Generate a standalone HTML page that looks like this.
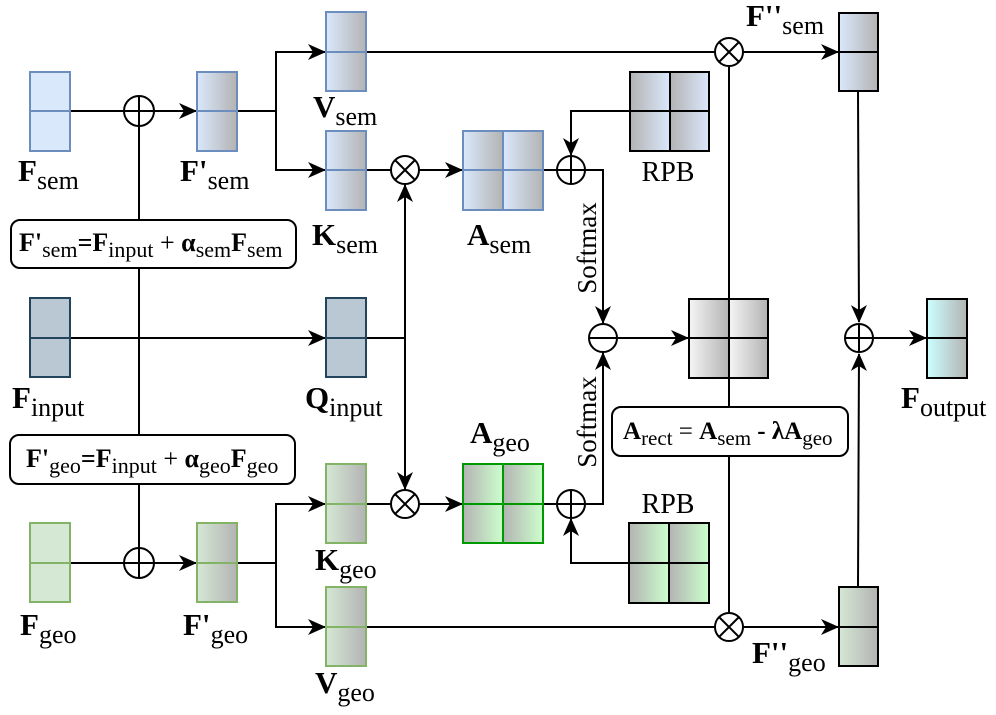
<!DOCTYPE html>
<html><head><meta charset="utf-8"><style>
html,body{margin:0;padding:0;background:#fff;}
svg{display:block;font-family:"Liberation Serif",serif;}
.b{font-weight:bold;}
</style></head><body>
<svg width="996" height="715" viewBox="0 0 996 715" xmlns="http://www.w3.org/2000/svg">
<defs>
<linearGradient id="gb" x1="0" x2="1"><stop offset="0" stop-color="#dae8fc"/><stop offset="1" stop-color="#b3b3b3"/></linearGradient>
<linearGradient id="bg" x1="0" x2="1"><stop offset="0" stop-color="#b3b3b3"/><stop offset="1" stop-color="#dae8fc"/></linearGradient>
<linearGradient id="gg" x1="0" x2="1"><stop offset="0" stop-color="#d5e8d4"/><stop offset="1" stop-color="#b3b3b3"/></linearGradient>
<linearGradient id="ggr" x1="0" x2="1"><stop offset="0" stop-color="#b3b3b3"/><stop offset="1" stop-color="#ccffcc"/></linearGradient>
<linearGradient id="wg" x1="0" x2="1"><stop offset="0" stop-color="#f5f5f5"/><stop offset="1" stop-color="#b3b3b3"/></linearGradient>
<linearGradient id="cg" x1="0" x2="1"><stop offset="0" stop-color="#ccffff"/><stop offset="1" stop-color="#b3b3b3"/></linearGradient>
<marker id="ar2" markerWidth="18" markerHeight="16" refX="17" refY="8" orient="auto" markerUnits="userSpaceOnUse"><path d="M0,0 L18,8 L0,16 L5,8 Z" fill="#000"/></marker>
</defs>
<g fill="none" stroke="#000" stroke-width="2">
<line x1="70" y1="111" x2="124" y2="111"/>
<line x1="154" y1="111" x2="196" y2="111" marker-end="url(#ar2)"/>
<polyline points="237,111 276,111 276,52 325,52" marker-end="url(#ar2)"/>
<polyline points="276,111 276,170 325,170" marker-end="url(#ar2)"/>
<line x1="139" y1="126" x2="139" y2="548"/>
<line x1="366" y1="170" x2="391" y2="170"/>
<line x1="419" y1="170" x2="462" y2="170" marker-end="url(#ar2)"/>
<line x1="366" y1="52" x2="715" y2="52"/>
<line x1="743" y1="52" x2="838" y2="52" marker-end="url(#ar2)"/>
<line x1="543" y1="170" x2="557" y2="170"/>
<polyline points="630,111 571,111 571,155" marker-end="url(#ar2)"/>
<polyline points="585,170 603,170 603,323" marker-end="url(#ar2)"/>
<line x1="70" y1="338" x2="325" y2="338" marker-end="url(#ar2)"/>
<polyline points="366,338 405,338"/>
<line x1="405" y1="338" x2="405" y2="185" marker-end="url(#ar2)"/>
<line x1="405" y1="338" x2="405" y2="489" marker-end="url(#ar2)"/>
<line x1="618" y1="338" x2="688" y2="338" marker-end="url(#ar2)"/>
<line x1="729" y1="67" x2="729" y2="612"/>
<line x1="858" y1="91" x2="859" y2="322" marker-end="url(#ar2)"/>
<line x1="874" y1="338" x2="926" y2="338" marker-end="url(#ar2)"/>
<line x1="858" y1="587" x2="859" y2="354" marker-end="url(#ar2)"/>
<line x1="70" y1="563" x2="124" y2="563"/>
<line x1="154" y1="563" x2="196" y2="563" marker-end="url(#ar2)"/>
<polyline points="237,563 276,563 276,504 325,504" marker-end="url(#ar2)"/>
<polyline points="276,563 276,627 325,627" marker-end="url(#ar2)"/>
<line x1="366" y1="504" x2="391" y2="504"/>
<line x1="419" y1="504" x2="462" y2="504" marker-end="url(#ar2)"/>
<line x1="543" y1="504" x2="557" y2="504"/>
<polyline points="630,563 571,563 571,519" marker-end="url(#ar2)"/>
<polyline points="585,504 603,504 603,353" marker-end="url(#ar2)"/>
<line x1="366" y1="627" x2="715" y2="627"/>
<line x1="743" y1="627" x2="838" y2="627" marker-end="url(#ar2)"/>
</g>
<g stroke-width="2">
<rect x="30" y="72" width="40" height="79" fill="#dae8fc" stroke="#6c8ebf"/><line x1="30" y1="111" x2="70" y2="111" stroke="#6c8ebf"/>
<rect x="197" y="72" width="40" height="79" fill="url(#gb)" stroke="#6c8ebf"/><line x1="197" y1="111" x2="237" y2="111" stroke="#6c8ebf"/>
<rect x="326" y="12" width="40" height="79" fill="url(#gb)" stroke="#6c8ebf"/><line x1="326" y1="52" x2="366" y2="52" stroke="#6c8ebf"/>
<rect x="326" y="131" width="40" height="79" fill="url(#gb)" stroke="#6c8ebf"/><line x1="326" y1="170" x2="366" y2="170" stroke="#6c8ebf"/>
<rect x="30" y="298" width="40" height="79" fill="#bac8d3" stroke="#23445d"/><line x1="30" y1="338" x2="70" y2="338" stroke="#23445d"/>
<rect x="326" y="298" width="40" height="79" fill="#bac8d3" stroke="#23445d"/><line x1="326" y1="338" x2="366" y2="338" stroke="#23445d"/>
<rect x="30" y="523" width="40" height="79" fill="#d5e8d4" stroke="#82b366"/><line x1="30" y1="563" x2="70" y2="563" stroke="#82b366"/>
<rect x="197" y="523" width="40" height="79" fill="url(#gg)" stroke="#82b366"/><line x1="197" y1="563" x2="237" y2="563" stroke="#82b366"/>
<rect x="326" y="464" width="40" height="79" fill="url(#gg)" stroke="#82b366"/><line x1="326" y1="504" x2="366" y2="504" stroke="#82b366"/>
<rect x="326" y="587" width="40" height="79" fill="url(#gg)" stroke="#82b366"/><line x1="326" y1="627" x2="366" y2="627" stroke="#82b366"/>
<rect x="463" y="131" width="40" height="79" fill="url(#gb)" stroke="#6c8ebf"/>
<rect x="503" y="131" width="40" height="79" fill="url(#gb)" stroke="#6c8ebf"/>
<line x1="463" y1="170" x2="543" y2="170" stroke="#6c8ebf"/>
<rect x="463" y="464" width="40" height="79" fill="url(#ggr)" stroke="#009900"/>
<rect x="503" y="464" width="40" height="79" fill="url(#ggr)" stroke="#009900"/>
<line x1="463" y1="504" x2="543" y2="504" stroke="#009900"/>
<rect x="630" y="72" width="40" height="79" fill="url(#bg)" stroke="#000"/>
<rect x="670" y="72" width="39" height="79" fill="url(#bg)" stroke="#000"/>
<line x1="630" y1="111" x2="709" y2="111" stroke="#000"/>
<rect x="629" y="523" width="40" height="80" fill="url(#ggr)" stroke="#000"/>
<rect x="669" y="523" width="40" height="80" fill="url(#ggr)" stroke="#000"/>
<line x1="629" y1="563" x2="709" y2="563" stroke="#000"/>
<rect x="689" y="299" width="40" height="79" fill="url(#wg)" stroke="#000"/>
<rect x="729" y="299" width="39" height="79" fill="url(#wg)" stroke="#000"/>
<line x1="689" y1="338" x2="768" y2="338" stroke="#000"/>
<rect x="839" y="13" width="39" height="78" fill="url(#gb)" stroke="#000"/><line x1="839" y1="52" x2="878" y2="52" stroke="#000"/>
<rect x="839" y="587" width="39" height="79" fill="url(#gg)" stroke="#000"/><line x1="839" y1="627" x2="878" y2="627" stroke="#000"/>
<rect x="927" y="299" width="40" height="79" fill="url(#cg)" stroke="#000"/><line x1="927" y1="338" x2="967" y2="338" stroke="#000"/>
</g>
<g fill="#fff" stroke="#000" stroke-width="2">
<circle cx="139" cy="111" r="15"/><path d="M124,111 H154 M139,96 V126"/>
<circle cx="139" cy="563" r="15"/><path d="M124,563 H154 M139,548 V578"/>
<circle cx="405" cy="170" r="14"/><path d="M395,160 L415,180 M415,160 L395,180"/>
<circle cx="405" cy="504" r="14"/><path d="M395,494 L415,514 M415,494 L395,514"/>
<circle cx="571" cy="170" r="14"/><path d="M557,170 H585 M571,156 V184"/>
<circle cx="571" cy="504" r="14"/><path d="M557,504 H585 M571,490 V518"/>
<circle cx="603" cy="338" r="14"/><path d="M589,338 H617"/>
<circle cx="729" cy="52" r="14"/><path d="M719,42 L739,62 M739,42 L719,62"/>
<circle cx="729" cy="627" r="14"/><path d="M719,617 L739,637 M739,617 L719,637"/>
<circle cx="859" cy="338" r="14"/><path d="M845,338 H873 M859,324 V352"/>
</g>
<rect x="11" y="220" width="285" height="48" rx="9" fill="#fff" stroke="#000" stroke-width="2"/>
<rect x="10" y="435" width="285" height="49" rx="9" fill="#fff" stroke="#000" stroke-width="2"/>
<rect x="612" y="407" width="236" height="49" rx="9" fill="#fff" stroke="#000" stroke-width="2"/>
<g font-size="26" fill="#000">
<text x="19" y="251"><tspan class="b">F'</tspan><tspan font-size="22" dy="6">sem</tspan><tspan dy="-6" class="b">=F</tspan><tspan font-size="22" dy="6">input</tspan><tspan dy="-6"> + </tspan><tspan class="b">α</tspan><tspan font-size="22" dy="6">sem</tspan><tspan dy="-6" class="b">F</tspan><tspan font-size="22" dy="6">sem</tspan></text>
<text x="26" y="467"><tspan class="b">F'</tspan><tspan font-size="22" dy="6">geo</tspan><tspan dy="-6" class="b">=F</tspan><tspan font-size="22" dy="6">input</tspan><tspan dy="-6"> + </tspan><tspan class="b">α</tspan><tspan font-size="22" dy="6">geo</tspan><tspan dy="-6" class="b">F</tspan><tspan font-size="22" dy="6">geo</tspan></text>
</g>
<text x="623" y="439" font-size="25" fill="#000"><tspan class="b">A</tspan><tspan font-size="21" dy="6">rect</tspan><tspan dy="-6"> = </tspan><tspan class="b">A</tspan><tspan font-size="21" dy="6">sem</tspan><tspan dy="-6" class="b"> - λA</tspan><tspan font-size="21" dy="6">geo</tspan></text>
<g font-size="31" fill="#000">
<text x="18" y="181"><tspan class="b">F</tspan><tspan font-size="26" dy="8">sem</tspan></text>
<text x="180" y="181"><tspan class="b">F'</tspan><tspan font-size="26" dy="8">sem</tspan></text>
<text x="313" y="117"><tspan class="b">V</tspan><tspan font-size="26" dy="8">sem</tspan></text>
<text x="312" y="245"><tspan class="b">K</tspan><tspan font-size="26" dy="8">sem</tspan></text>
<text x="467" y="245"><tspan class="b">A</tspan><tspan font-size="26" dy="8">sem</tspan></text>
<text x="12" y="408"><tspan class="b">F</tspan><tspan font-size="26" dy="8">input</tspan></text>
<text x="305" y="408"><tspan class="b">Q</tspan><tspan font-size="26" dy="8">input</tspan></text>
<text x="470" y="443"><tspan class="b">A</tspan><tspan font-size="26" dy="8">geo</tspan></text>
<text x="315" y="570"><tspan class="b">K</tspan><tspan font-size="26" dy="8">geo</tspan></text>
<text x="315" y="693"><tspan class="b">V</tspan><tspan font-size="26" dy="8">geo</tspan></text>
<text x="20" y="635"><tspan class="b">F</tspan><tspan font-size="26" dy="8">geo</tspan></text>
<text x="183" y="635"><tspan class="b">F'</tspan><tspan font-size="26" dy="8">geo</tspan></text>
<text x="746" y="26"><tspan class="b">F''</tspan><tspan font-size="26" dy="8">sem</tspan></text>
<text x="752" y="663"><tspan class="b">F''</tspan><tspan font-size="26" dy="8">geo</tspan></text>
<text x="901" y="408"><tspan class="b">F</tspan><tspan font-size="26" dy="8">output</tspan></text>
<text x="668" y="181" text-anchor="middle" font-size="28">RPB</text>
<text x="668" y="513" text-anchor="middle" font-size="28">RPB</text>
</g>
<g font-size="27" fill="#000">
<text transform="translate(596,248) rotate(-90)" text-anchor="middle">Softmax</text>
<text transform="translate(596,422) rotate(-90)" text-anchor="middle">Softmax</text>
</g>
</svg>
</body></html>
